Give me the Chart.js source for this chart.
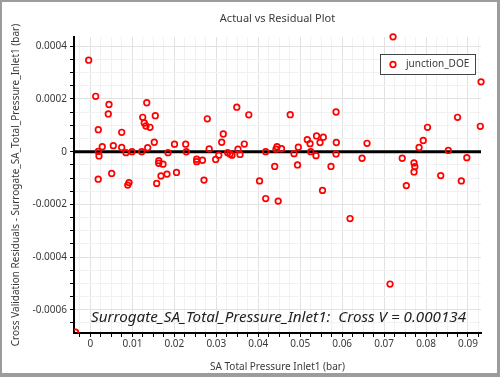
<!DOCTYPE html>
<html lang="en">
<head>
    <meta charset="utf-8">
    <title>Actual vs Residual Plot</title>
    <script src="https://cdn.jsdelivr.net/npm/chart.js"></script>
    <style>
        html, body { margin: 0; padding: 0; background: #fff; }
        .wrap { position: relative; width: 500px; height: 377px; }
        .frame {
            position: absolute; left: 0; top: 0; right: 0; bottom: 0;
            border-style: solid; border-color: #9c9c9c;
            border-width: 2px 3px 4px 2px;
            pointer-events: none;
        }
    </style>
</head>
<body>
<div class="wrap">
    <canvas id="residchart" width="500" height="377"></canvas>
    <div class="frame"></div>
</div>
<script>
    // SA Total Pressure Inlet1 (bar)
    const actual = [
        -0.00043, 0.00124, 0.00186, 0.00186, 0.00203, 0.00281, 0.00184, 0.00441, 0.00424, 0.00505,
        0.00544, 0.00744, 0.00744, 0.00846, 0.00990, 0.00918, 0.00889, 0.01221, 0.01245, 0.01283,
        0.01342, 0.01323, 0.01419, 0.01545, 0.01364, 0.01521, 0.01629, 0.01626, 0.01729, 0.01848,
        0.01578, 0.01681, 0.01824, 0.02003, 0.02051, 0.02270, 0.02284, 0.02532, 0.02532, 0.02670,
        0.02706, 0.02785, 0.02830, 0.02985, 0.03059, 0.03128, 0.03166, 0.03271, 0.03326, 0.03374,
        0.03488, 0.03517, 0.03565, 0.03667, 0.03774, 0.07213, 0.09311, 0.09294, 0.08751, 0.08035,
        0.07933, 0.07833, 0.08531, 0.08972, 0.08841, 0.08350, 0.07713, 0.07733, 0.07713, 0.07530,
        0.07432, 0.06593, 0.06474, 0.05854, 0.05861, 0.05854, 0.05734, 0.05532, 0.05551, 0.05472,
        0.05389, 0.05169, 0.05234, 0.05250, 0.05377, 0.04955, 0.04852, 0.04936, 0.04762, 0.04554,
        0.04447, 0.04423, 0.04392, 0.04177, 0.04030, 0.04177, 0.04475, 0.06188, 0.07141, -0.00358
    ];
    // Cross Validation Residuals (bar)
    const residual = [
        0.000347, 0.000210, 0.0000833, 0.0000008, -0.0000163, 0.0000189, -0.0001045, 0.000179, 0.000143, -0.0000826,
        0.0000227, 0.0000735, 0.0000159, -0.0000038, 0, -0.0001174, -0.0001269, 0, 0.0001303, 0.0001087,
        0.0001856, 0.0000974, 0.0000924, 0.0001364, 0.0000148, 0.0000356, -0.0000341, -0.0000439, -0.0000474, -0.0000038,
        -0.0001205, -0.0000920, -0.0000852, 0.0000284, -0.0000788, 0.0000284, -0.0000004, -0.0000288, -0.0000379, -0.0000326,
        -0.000108, 0.0001246, 0.0000102, -0.0000295, -0.0000133, 0.0000356, 0.0000670, -0.0000038, -0.0000087, -0.0000133,
        0.0001686, 0.0000095, -0.0000106, 0.0000288, 0.0001398, 0.0004356, 0.0002648, 0.0000962, 0.0001303, 0.0000924,
        0.0000424, 0.0000159, 0.0000045, -0.0000227, -0.000111, -0.0000909, -0.0000428, -0.0000568, -0.0000769, -0.0001288,
        -0.000025, 0.0000318, -0.000025, 0.0001504, 0.0000348, -0.0000087, -0.0000561, -0.000147, 0.0000549, 0.0000348,
        0.0000595, 0.0000455, 0.0000303, 0, -0.0000152, 0.000017, -0.0000076, -0.0000504, 0.0001402, 0.000011,
        0.0000189, 0.0000095, -0.0000561, 0, -0.000111, -0.000178, -0.0001875, -0.0002538, -0.0005023, -0.000685
    ];
    const seriesName = 'junction_DOE';
    const chartTitle = 'Actual vs Residual Plot';
    const xTitle = 'SA Total Pressure Inlet1 (bar)';
    const yTitle = 'Cross Validation Residuals - Surrogate_SA_Total_Pressure_Inlet1 (bar)';
    const note = 'Surrogate_SA_Total_Pressure_Inlet1:  Cross V = 0.000134';
    const xMajor = 0.01, xMinor = 0.0025;
    const yMajor = 0.0002, yMinor = 0.00005;

    const points = actual.map((x, i) => ({ x: x, y: residual[i] }));

    function isMajor(v, step) {
        const r = v / step;
        return Math.abs(r - Math.round(r)) < 1e-6;
    }
    function fmt(v) {
        const s = parseFloat(v.toFixed(6));
        return s === 0 ? '0' : String(s);
    }

    const textColor = '#3a3a3a';
    const fontFamily = '"Noto Sans", "Open Sans", sans-serif';

    // title, zero line, legend box and the note inside the plot
    const extras = {
        id: 'extras',
        beforeDatasetsDraw(chart) {
            const ctx = chart.ctx;
            const area = chart.chartArea;
            const y0 = chart.scales.y.getPixelForValue(0);
            ctx.save();
            ctx.strokeStyle = '#000';
            ctx.lineWidth = 3;
            ctx.beginPath();
            ctx.moveTo(area.left, y0);
            ctx.lineTo(area.right, y0);
            ctx.stroke();
            ctx.restore();
        },
        afterDraw(chart) {
            const ctx = chart.ctx;
            const area = chart.chartArea;
            ctx.save();
            // title
            ctx.fillStyle = textColor;
            ctx.font = '11px ' + fontFamily;
            ctx.textAlign = 'center';
            ctx.textBaseline = 'middle';
            ctx.fillText(chartTitle, (area.left + area.right) / 2, 19);

            // note
            ctx.fillStyle = '#222';
            ctx.font = 'italic 15.2px ' + fontFamily;
            ctx.textAlign = 'left';
            ctx.textBaseline = 'alphabetic';
            ctx.fillText(note, 91, 322);

            // legend
            const lx = 380, ly = 54, lw = 95, lh = 20;
            ctx.fillStyle = '#fff';
            ctx.fillRect(lx, ly, lw, lh);
            ctx.strokeStyle = '#444';
            ctx.lineWidth = 1;
            ctx.strokeRect(lx + 0.5, ly + 0.5, lw, lh);
            ctx.strokeStyle = '#ff0000';
            ctx.lineWidth = 1.7;
            ctx.beginPath();
            ctx.arc(393, ly + lh / 2 + 0.5, 2.8, 0, Math.PI * 2);
            ctx.stroke();
            ctx.fillStyle = textColor;
            ctx.font = '10px ' + fontFamily;
            ctx.textBaseline = 'middle';
            ctx.fillText(seriesName, 406, ly + lh / 2 + 0.5);
            ctx.restore();
        }
    };

    const data = {
        datasets: [{
            label: seriesName,
            data: points,
            showLine: false,
            pointStyle: 'circle',
            pointRadius: 2.8,
            pointHoverRadius: 2.8,
            pointBorderWidth: 1.7,
            borderColor: '#ff0000',
            backgroundColor: 'rgba(0,0,0,0)',
            clip: { left: 0, top: 6, right: 6, bottom: 0 }
        }]
    };

    const config = {
        type: 'scatter',
        data: data,
        plugins: [extras],
        options: {
            responsive: false,
            animation: false,
            events: [],
            layout: { padding: { top: 37, right: 19, left: 0, bottom: 0 } },
            plugins: {
                legend: { display: false },
                tooltip: { enabled: false },
                title: { display: false }
            },
            scales: {
                x: {
                    type: 'linear',
                    min: -0.00393,
                    max: 0.0931,
                    afterFit: s => { s.height = 44; },
                    border: { color: '#000', width: 2 },
                    grid: {
                        color: c => isMajor(c.tick.value, xMajor) ? '#e2e2e2' : '#f1f1f1',
                        tickColor: '#000',
                        tickLength: 4
                    },
                    ticks: {
                        stepSize: xMinor,
                        includeBounds: false,
                        autoSkip: false,
                        maxRotation: 0,
                        padding: 1,
                        color: textColor,
                        font: { family: fontFamily, size: 10 },
                        callback: v => isMajor(v, xMajor) ? fmt(v) : ''
                    },
                    title: {
                        display: true,
                        text: xTitle,
                        color: textColor,
                        font: { family: fontFamily, size: 10 },
                        padding: { top: 0, bottom: 4 }
                    }
                },
                y: {
                    type: 'linear',
                    min: -0.000688,
                    max: 0.000435,
                    afterFit: s => { s.width = 74; },
                    border: { color: '#000', width: 2 },
                    grid: {
                        color: c => isMajor(c.tick.value, yMajor) ? '#e2e2e2' : '#f1f1f1',
                        tickColor: '#000',
                        tickLength: 4
                    },
                    ticks: {
                        stepSize: yMinor,
                        includeBounds: false,
                        autoSkip: false,
                        padding: 3,
                        color: textColor,
                        font: { family: fontFamily, size: 10 },
                        callback: v => isMajor(v, yMajor) ? fmt(v) : ''
                    },
                    title: {
                        display: true,
                        text: yTitle,
                        color: textColor,
                        font: { family: fontFamily, size: 10 },
                        padding: { top: 10, bottom: 0 }
                    }
                }
            }
        }
    };

    const residChart = new Chart(document.getElementById('residchart'), config);
</script>
</body>
</html>
